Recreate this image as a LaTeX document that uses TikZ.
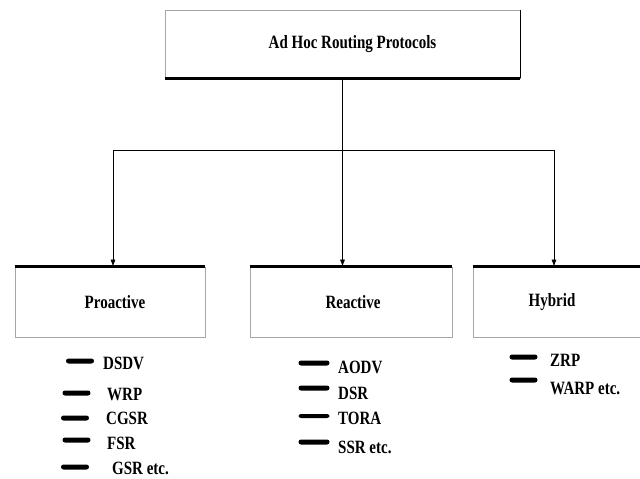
\documentclass[tikz,border=0pt]{standalone}
\usepackage{fontspec}
\setmainfont{Liberation Serif}
\usetikzlibrary{positioning,arrows.meta}
\newcommand{\tallt}[1]{\scalebox{1}[1.25]{#1}}
\tikzset{every node/.style={font=\bfseries\fontsize{15}{18}\selectfont},
    catbox/.style={draw=black!35,line width=0.8pt,minimum width=190pt,minimum height=70pt,inner sep=0pt},
    bar/.style={fill=black,rounded corners=2.5pt,minimum width=28pt,minimum height=5pt,inner sep=0pt},
    item/.style={anchor=west,inner sep=0pt},
    edge/.style={semithick,-{Latex[length=7pt,width=5pt]}},
    }
\begin{document}
\begin{tikzpicture}[x=1pt,y=-1pt]
\useasboundingbox (0,0) rectangle (640,479);
% boxes
\node[catbox,minimum width=355pt,minimum height=68pt] (root) at (342.5,44) {\hspace*{20pt}\raisebox{-4pt}{\tallt{Ad Hoc Routing Protocols}}};
\node[catbox] (pro) at (110,302) {\hspace*{10pt}\tallt{Proactive}};
\node[catbox,minimum width=202pt] (rea) at (351,302) {\hspace*{4pt}\tallt{Reactive}};
\node[catbox,minimum width=172pt] (hyb) at (559,302) {\tallt{Hybrid}\hspace*{14pt}};
\draw[line width=2.5pt] (root.south west) -- (root.south east);
\draw[line width=1.5pt] (root.south east) -- (root.north east);
\foreach \b in {pro,rea,hyb}
  \draw[line width=2.5pt] (\b.north west) -- (\b.north east);
% connectors
\coordinate (fork) at ([yshift=-72pt]root.south);
\draw[edge] (root.south) -- (fork |- rea.north);
\draw[edge] (fork) -| ([xshift=3pt]pro.north);
\draw[edge] (fork) -| ([xshift=-5pt]hyb.north);
% proactive list
\node[bar] (pb1) at (80,361) {};   \node[item] (dsdv) at (103,363) {\tallt{DSDV}};
\node[bar] (pb2) at (76.5,393) {}; \node[item] (wrp) at (107,394) {\tallt{WRP}};
\node[bar] (pb3) at (75,418) {};   \node[item] (cgsr) at (106,418) {\tallt{CGSR}};
\node[bar] (pb4) at (76.5,440) {}; \node[item] (fsr) at (107,443) {\tallt{FSR}};
\node[bar] (pb5) at (75,467) {};   \node[item] (gsr) at (112,468) {\tallt{GSR etc.}};
% reactive list
\node[bar,minimum width=31pt] (rb1) at (314,363) {}; \node[item] (aodv) at (338,367) {\tallt{AODV}};
\node[bar,minimum width=31pt] (rb2) at (314,388) {}; \node[item] (dsr) at (338,393) {\tallt{DSR}};
\node[bar,minimum width=31pt,minimum height=4pt] (rb3) at (314,416) {}; \node[item] (tora) at (338,418) {\tallt{TORA}};
\node[bar,minimum width=31pt] (rb4) at (314,442) {}; \node[item] (ssr) at (338,447) {\tallt{SSR etc.}};
% hybrid list
\node[bar] (hb1) at (523.5,357) {}; \node[item] (zrp) at (550,360) {\tallt{ZRP}};
\node[bar] (hb2) at (523.5,380) {}; \node[item] (warp) at (550,388) {\tallt{WARP etc.}};
\end{tikzpicture}
\end{document}
